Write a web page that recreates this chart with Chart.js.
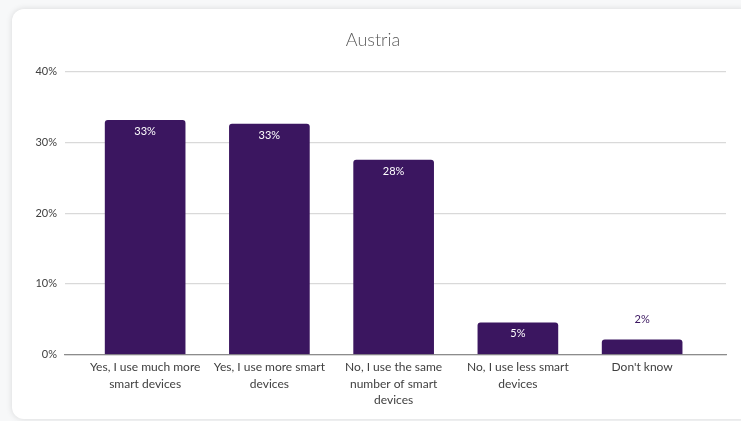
<!DOCTYPE html>
<html>
<head>
<meta charset="utf-8">
<script src="https://cdn.jsdelivr.net/npm/chart.js"></script>
<style>
  html, body { margin: 0; padding: 0; background: #f7f8f9; }
  body { width: 741px; height: 421px; position: relative; overflow: hidden; }
  .card {
    position: absolute; left: 12px; top: 9px; width: 740px; height: 410px;
    background: #fff; border-radius: 12px;
    box-shadow: 0 0 6px rgba(0, 0, 0, 0.13);
  }
  #chart { position: absolute; left: 0; top: 0; }
</style>
</head>
<body>
<div class="card"></div>
<canvas id="chart" width="741" height="421"></canvas>
<script>
const title = "Austria";
const categories = [
  ["Yes, I use much more", "smart devices"],
  ["Yes, I use more smart", "devices"],
  ["No, I use the same", "number of smart", "devices"],
  ["No, I use less smart", "devices"],
  ["Don't know"]
];
const shares = [33.1, 32.6, 27.5, 4.5, 2.1];
const yTicks = [0, 10, 20, 30, 40];

const barColor = "#3b1660";
const fontFamily = "Lato, 'Open Sans', sans-serif";

// value labels: inside the bar top in white, above the bar if it is too short
const valueLabels = {
  id: "valueLabels",
  afterDatasetsDraw(chart) {
    const ctx = chart.ctx;
    const meta = chart.getDatasetMeta(0);
    ctx.save();
    ctx.font = "11px " + fontFamily;
    ctx.textAlign = "center";
    ctx.textBaseline = "middle";
    meta.data.forEach((bar, i) => {
      const text = Math.round(shares[i]) + "%";
      const h = bar.base - bar.y;
      if (h > 25) {
        ctx.fillStyle = "#ffffff";
        ctx.fillText(text, bar.x, bar.y + 11);
      } else {
        ctx.fillStyle = barColor;
        ctx.fillText(text, bar.x, bar.y - 20);
      }
    });
    ctx.restore();
  }
};

new Chart(document.getElementById("chart"), {
  type: "bar",
  data: {
    datasets: [{
      data: shares.map((v, i) => ({ x: i, y: v })),
      backgroundColor: barColor,
      barThickness: 80,
      borderRadius: { topLeft: 3, topRight: 3 },
      borderSkipped: "bottom"
    }]
  },
  options: {
    responsive: false,
    animation: false,
    layout: { padding: { left: 20, right: 15, top: 6, bottom: 8 } },
    plugins: {
      legend: { display: false },
      tooltip: { enabled: false },
      title: {
        display: true,
        text: title,
        color: "#595959",
        font: { family: fontFamily, size: 18, weight: "300" },
        padding: { top: 23, bottom: 21 }
      }
    },
    scales: {
      x: {
        type: "linear",
        offset: false,
        min: -0.645,
        max: 4.675,
        afterBuildTicks: (axis) => {
          axis.ticks = categories.map((c, i) => ({ value: i }));
        },
        ticks: {
          autoSkip: false,
          maxRotation: 0,
          color: "#404040",
          padding: 4,
          font: { family: fontFamily, size: 12, lineHeight: 1.4 },
          callback: (v) => categories[v]
        },
        grid: { display: false, drawTicks: false },
        border: { display: true, color: "#8c8c8c", width: 1.2 }
      },
      y: {
        min: 0,
        max: 40,
        afterBuildTicks: (axis) => {
          axis.ticks = yTicks.map(v => ({ value: v }));
        },
        afterFit: (axis) => { axis.width = 45; },
        ticks: {
          color: "#404040",
          padding: 8,
          font: { family: fontFamily, size: 11 },
          callback: (v) => v + "%"
        },
        grid: { color: "#d9d9d9", lineWidth: 1.2, drawTicks: false },
        border: { display: false }
      }
    }
  },
  plugins: [valueLabels]
});
</script>
</body>
</html>
